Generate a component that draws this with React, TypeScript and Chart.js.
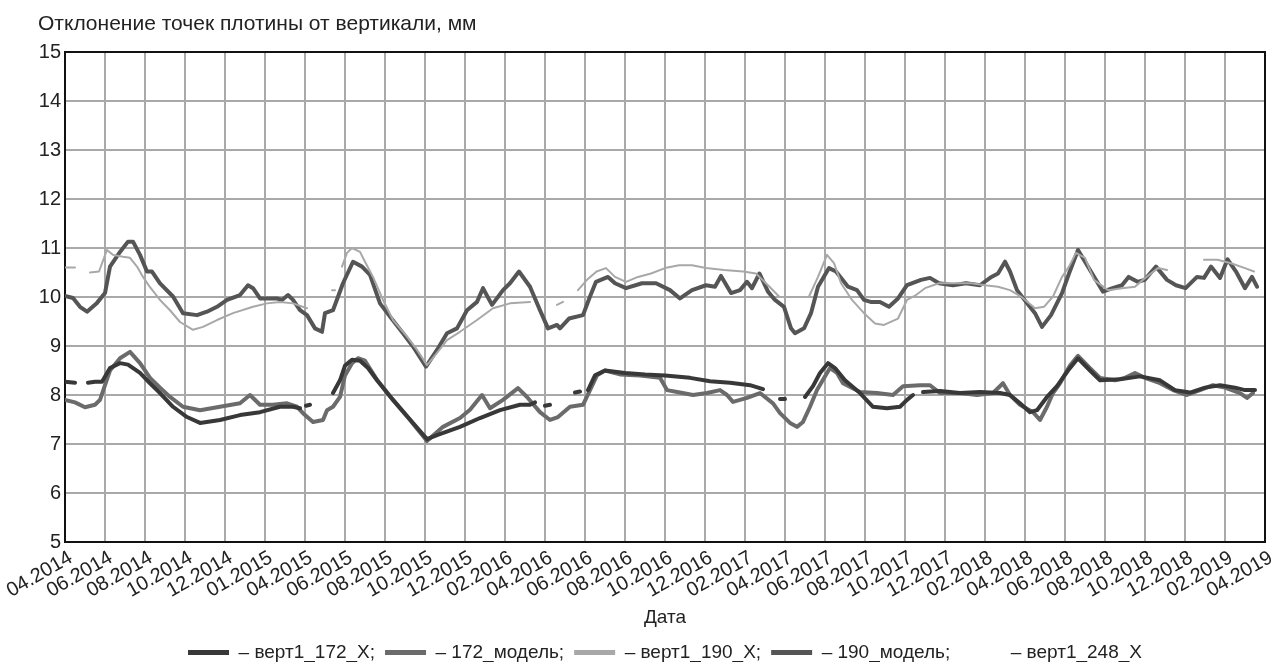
import React, { useEffect, useRef } from "react";
import { Chart, registerables } from "chart.js";

Chart.register(...registerables);

const xLabels = [
  "04.2014", "06.2014", "08.2014", "10.2014", "12.2014", "01.2015", "04.2015", "06.2015",
  "08.2015", "10.2015", "12.2015", "02.2016", "04.2016", "06.2016", "08.2016", "10.2016",
  "12.2016", "02.2017", "04.2017", "06.2017", "08.2017", "10.2017", "12.2017", "02.2018",
  "04.2018", "06.2018", "08.2018", "10.2018", "12.2018", "02.2019", "04.2019",
];

const seriesNames = ["верт1_172_X", "172_модель", "верт1_190_X", "190_модель", "верт1_248_X"];

type Pt = [number, number | null];

// position along the date axis (tick index), value in mm; null = gap
const vert172X: Pt[] = [
  [0, 8.27], [0.25, 8.25], [0.4, null],
  [0.575, 8.25], [0.75, 8.27], [0.925, 8.27], [1.125, 8.55], [1.375, 8.65], [1.575, 8.62], [1.875, 8.45],
  [2.125, 8.24], [2.375, 8.04], [2.7, 7.76], [3.05, 7.55], [3.375, 7.43], [3.875, 7.49], [4.375, 7.59],
  [4.875, 7.65], [5.375, 7.76], [5.7, 7.76], [5.875, 7.73], [5.95, null],
  [6.025, 7.78], [6.125, 7.8], [6.2, null],
  [6.7, 8.04], [6.875, 8.3], [7.0, 8.6], [7.175, 8.72], [7.375, 8.7], [7.575, 8.55], [7.8, 8.3], [8.2, 7.9],
  [8.625, 7.5], [9.05, 7.1], [9.3, 7.18], [9.875, 7.35], [10.375, 7.53], [10.875, 7.69], [11.375, 7.8],
  [11.625, 7.8], [11.75, 7.85], [11.85, null],
  [12.0, 7.78], [12.125, 7.8], [12.2, null],
  [12.75, 8.05], [12.875, 8.07], [12.95, null],
  [13.075, 8.1], [13.25, 8.4], [13.5, 8.5], [14.0, 8.45], [14.5, 8.42], [15.0, 8.4], [15.625, 8.35],
  [16.125, 8.28], [16.625, 8.25], [17.125, 8.2], [17.45, 8.12], [17.6, null],
  [17.875, 7.92], [18.0, 7.92], [18.2, null],
  [18.5, 7.96], [18.7, 8.18], [18.875, 8.45], [19.075, 8.65], [19.25, 8.55], [19.5, 8.3], [19.875, 8.04],
  [20.2, 7.76], [20.55, 7.73], [20.875, 7.76], [21.05, 7.9], [21.2, 8.0], [21.3, null],
  [21.45, 8.06], [21.875, 8.08], [22.375, 8.04], [22.875, 8.06], [23.375, 8.04], [23.625, 8.0], [23.875, 7.83],
  [24.125, 7.65], [24.3, 7.69], [24.55, 7.96], [24.8, 8.18], [25.075, 8.5], [25.325, 8.75], [25.625, 8.5],
  [25.875, 8.3], [26.375, 8.32], [26.875, 8.38], [27.375, 8.3], [27.75, 8.1], [28.125, 8.05], [28.5, 8.15],
  [28.875, 8.2], [29.25, 8.15], [29.5, 8.1], [29.75, 8.1],
];

const model172: Pt[] = [
  [0, 7.9], [0.25, 7.85], [0.5, 7.75], [0.75, 7.8], [0.875, 7.9], [1.0, 8.2], [1.125, 8.5], [1.375, 8.75],
  [1.625, 8.88], [1.875, 8.65], [2.125, 8.35], [2.375, 8.15], [2.625, 7.96], [2.95, 7.76], [3.375, 7.69],
  [3.875, 7.76], [4.375, 7.83], [4.625, 8.0], [4.875, 7.8], [5.2, 7.8], [5.55, 7.83], [5.8, 7.76],
  [5.95, 7.63], [6.2, 7.45], [6.45, 7.49], [6.55, 7.69], [6.7, 7.76], [6.875, 7.96], [7.0, 8.4],
  [7.175, 8.65], [7.325, 8.75], [7.5, 8.7], [7.8, 8.31], [8.2, 7.9], [8.625, 7.49], [9.05, 7.06],
  [9.45, 7.35], [9.875, 7.53], [10.125, 7.7], [10.425, 8.0], [10.625, 7.73], [10.95, 7.9], [11.325, 8.14],
  [11.55, 7.96], [11.875, 7.65], [12.125, 7.49], [12.325, 7.55], [12.625, 7.76], [12.95, 7.8], [13.125, 8.1],
  [13.3, 8.4], [13.5, 8.5], [13.875, 8.42], [14.375, 8.4], [14.875, 8.35], [15.05, 8.1], [15.375, 8.05],
  [15.7, 8.0], [16.05, 8.04], [16.375, 8.1], [16.55, 8.0], [16.7, 7.86], [17.05, 7.94], [17.375, 8.04],
  [17.7, 7.83], [17.875, 7.63], [18.125, 7.43], [18.3, 7.35], [18.45, 7.45], [18.625, 7.76], [18.8, 8.1],
  [18.95, 8.31], [19.125, 8.55], [19.3, 8.45], [19.45, 8.24], [19.875, 8.06], [20.3, 8.04], [20.7, 8.0],
  [20.95, 8.18], [21.375, 8.2], [21.625, 8.2], [21.875, 8.04], [22.375, 8.04], [22.8, 8.0], [23.2, 8.04],
  [23.45, 8.24], [23.625, 8.0], [23.875, 7.8], [24.2, 7.65], [24.375, 7.49], [24.55, 7.76], [24.7, 8.04],
  [24.875, 8.24], [25.125, 8.6], [25.325, 8.8], [25.625, 8.55], [25.875, 8.35], [26.25, 8.3], [26.5, 8.35],
  [26.75, 8.45], [27.0, 8.35], [27.375, 8.24], [27.7, 8.1], [28.05, 8.0], [28.375, 8.1], [28.7, 8.2],
  [29.0, 8.15], [29.375, 8.04], [29.55, 7.94], [29.7, 8.04],
];

const vert190X: Pt[] = [
  [0, 10.6], [0.25, 10.6], [0.4, null],
  [0.625, 10.5], [0.85, 10.52], [1.05, 10.96], [1.2, 10.86], [1.45, 10.82], [1.625, 10.8], [1.8, 10.62],
  [1.95, 10.41], [2.125, 10.2], [2.375, 9.94], [2.625, 9.73], [2.875, 9.49], [3.2, 9.33], [3.45, 9.39],
  [3.8, 9.53], [4.2, 9.67], [4.7, 9.8], [5.05, 9.87], [5.375, 9.9], [5.7, 9.87], [6.05, 9.77], [6.15, null],
  [6.675, 10.14], [6.75, 10.14], [6.85, null],
  [6.925, 10.62], [7.05, 10.9], [7.175, 11.0], [7.375, 10.92], [7.5, 10.72], [7.7, 10.41], [7.95, 9.94],
  [8.2, 9.53], [8.55, 9.19], [8.8, 8.92], [9.05, 8.61], [9.3, 8.86], [9.55, 9.12], [9.875, 9.29],
  [10.3, 9.53], [10.7, 9.77], [11.125, 9.87], [11.625, 9.9], [11.75, null],
  [12.3, 9.84], [12.45, 9.9], [12.6, null],
  [12.825, 10.14], [13.05, 10.35], [13.29, 10.52], [13.525, 10.59], [13.75, 10.41], [14.025, 10.31],
  [14.325, 10.41], [14.65, 10.48], [15.0, 10.59], [15.35, 10.65], [15.675, 10.65], [16.025, 10.59],
  [16.475, 10.55], [16.95, 10.52], [17.275, 10.48], [17.625, 10.2], [17.85, 10.01], [17.95, null],
  [18.6, 10.01], [18.825, 10.41], [19.05, 10.86], [19.225, 10.69], [19.4, 10.28], [19.675, 9.94],
  [19.975, 9.67], [20.25, 9.46], [20.475, 9.43], [20.825, 9.56], [21.05, 9.94], [21.275, 10.04],
  [21.5, 10.18], [21.85, 10.28], [22.3, 10.28], [22.65, 10.28], [23.0, 10.24], [23.325, 10.21],
  [23.625, 10.14], [23.9, 10.01], [24.25, 9.77], [24.475, 9.8], [24.7, 10.01], [24.925, 10.41],
  [25.1, 10.62], [25.275, 10.9], [25.5, 10.8], [25.725, 10.35], [26.075, 10.14], [26.425, 10.18],
  [26.75, 10.21], [26.99, 10.38], [27.325, 10.59], [27.55, 10.55], [27.7, null],
  [28.475, 10.76], [28.81, 10.76], [29.15, 10.69], [29.5, 10.59], [29.725, 10.52],
];

const model190: Pt[] = [
  [0, 10.02], [0.2, 9.98], [0.375, 9.8], [0.55, 9.7], [0.8, 9.88], [1.0, 10.08], [1.125, 10.62],
  [1.375, 10.92], [1.575, 11.13], [1.7, 11.13], [1.875, 10.86], [2.05, 10.52], [2.175, 10.52],
  [2.375, 10.28], [2.7, 10.01], [2.95, 9.67], [3.3, 9.63], [3.55, 9.7], [3.8, 9.8], [4.05, 9.94],
  [4.375, 10.04], [4.575, 10.24], [4.7, 10.18], [4.875, 9.97], [5.05, 9.97], [5.3, 9.97], [5.425, 9.94],
  [5.575, 10.04], [5.7, 9.94], [5.875, 9.73], [6.05, 9.63], [6.25, 9.36], [6.425, 9.29], [6.5, 9.67],
  [6.7, 9.73], [6.95, 10.28], [7.2, 10.72], [7.425, 10.62], [7.625, 10.45], [7.875, 9.87], [8.125, 9.6],
  [8.45, 9.26], [8.7, 8.99], [9.025, 8.58], [9.3, 8.92], [9.55, 9.26], [9.8, 9.36], [10.05, 9.73],
  [10.3, 9.9], [10.45, 10.18], [10.675, 9.84], [10.95, 10.14], [11.125, 10.28], [11.35, 10.52],
  [11.625, 10.21], [11.875, 9.73], [12.075, 9.36], [12.3, 9.43], [12.375, 9.36], [12.6, 9.56],
  [12.95, 9.63], [13.125, 10.01], [13.275, 10.31], [13.575, 10.41], [13.75, 10.28], [14.025, 10.18],
  [14.425, 10.28], [14.775, 10.28], [15.125, 10.14], [15.375, 9.97], [15.675, 10.14], [16.025, 10.24],
  [16.25, 10.21], [16.4, 10.43], [16.65, 10.08], [16.875, 10.14], [17.05, 10.31], [17.175, 10.18],
  [17.36, 10.48], [17.575, 10.11], [17.75, 9.94], [17.975, 9.8], [18.15, 9.36], [18.25, 9.26],
  [18.475, 9.36], [18.65, 9.67], [18.825, 10.21], [19.1, 10.59], [19.275, 10.52], [19.575, 10.21],
  [19.8, 10.14], [19.975, 9.94], [20.14, 9.9], [20.375, 9.9], [20.6, 9.8], [20.825, 9.97], [21.05, 10.24],
  [21.4, 10.35], [21.625, 10.39], [21.85, 10.28], [22.2, 10.24], [22.525, 10.28], [22.875, 10.24],
  [23.16, 10.41], [23.325, 10.48], [23.5, 10.72], [23.625, 10.52], [23.8, 10.14], [24.025, 9.9],
  [24.25, 9.67], [24.425, 9.39], [24.65, 9.63], [24.925, 10.08], [25.1, 10.48], [25.325, 10.96],
  [25.625, 10.55], [25.95, 10.11], [26.19, 10.18], [26.425, 10.24], [26.59, 10.41], [26.815, 10.31],
  [26.99, 10.35], [27.275, 10.62], [27.55, 10.35], [27.775, 10.24], [28.015, 10.18], [28.3, 10.41],
  [28.475, 10.39], [28.65, 10.62], [28.875, 10.39], [29.065, 10.77], [29.275, 10.52], [29.5, 10.18],
  [29.675, 10.41], [29.8, 10.21],
];

const vert248X: Pt[] = [];

const seriesData = [vert172X, model172, vert190X, model190, vert248X];
const seriesColors = ["#383838", "#6b6b6b", "#a8a8a8", "#555555", "#ffffff"];
const seriesWidths = [4, 4, 2, 4, 2];

const FONT = "'Liberation Sans', Arial, sans-serif";

const framePlugin = {
  id: "frame",
  beforeDatasetsDraw(chart: any) {
    const { ctx, chartArea } = chart;
    ctx.save();
    ctx.strokeStyle = "#111";
    ctx.lineWidth = 2;
    ctx.strokeRect(chartArea.left, chartArea.top, chartArea.right - chartArea.left, chartArea.bottom - chartArea.top);
    ctx.restore();
  },
};

export default function App() {
  const ref = useRef<HTMLCanvasElement | null>(null);

  useEffect(() => {
    if (!ref.current) return;
    const chart = new Chart(ref.current, {
      type: "line",
      data: {
        datasets: seriesNames.map((name, i) => ({
          label: name,
          data: seriesData[i].map(([t, v]) => ({ x: t, y: v })),
          borderColor: seriesColors[i],
          backgroundColor: seriesColors[i],
          borderWidth: seriesWidths[i],
          pointRadius: 0,
          tension: 0,
          spanGaps: false,
          borderJoinStyle: "round",
          borderCapStyle: "round",
          fill: false,
        })),
      },
      options: {
        responsive: false,
        animation: false,
        layout: { padding: { left: 38, right: 11, top: 0, bottom: -10 } },
        plugins: {
          tooltip: { enabled: false },
          title: {
            display: true,
            text: "Отклонение точек плотины от вертикали, мм",
            align: "start",
            color: "#222",
            font: { family: FONT, size: 21, weight: "normal" },
            padding: { top: 12, bottom: 14.8 },
          },
          legend: {
            position: "bottom",
            fullSize: false,
            labels: {
              color: "#222",
              font: { family: FONT, size: 19 },
              boxWidth: 41,
              boxHeight: 5,
              padding: 10,
              generateLabels: (c: any) =>
                c.data.datasets.map((ds: any, i: number) => ({
                  text: "– " + ds.label + (i < c.data.datasets.length - 1 ? ";" : ""),
                  fillStyle: ds.borderColor,
                  strokeStyle: ds.borderColor,
                  lineWidth: 0,
                  hidden: false,
                  datasetIndex: i,
                  fontColor: "#222",
                })),
            },
          },
        },
        scales: {
          x: {
            type: "linear",
            min: 0,
            max: 30,
            afterBuildTicks: (s: any) => {
              s.ticks = xLabels.map((_, i) => ({ value: i }));
            },
            afterFit: (s: any) => {
              s.height = 91;
              s.paddingLeft = 0;
              s.paddingRight = 0;
            },
            ticks: {
              autoSkip: false,
              minRotation: 30,
              maxRotation: 30,
              padding: 4,
              labelOffset: 6,
              color: "#222",
              font: { family: FONT, size: 20 },
              callback: (v: any) => xLabels[Math.round(Number(v))] ?? "",
            },
            grid: { color: "#a9a9a9", lineWidth: 2, drawTicks: false },
            border: { display: false },
            title: {
              display: true,
              text: "Дата",
              color: "#222",
              font: { family: FONT, size: 19 },
              padding: { top: 0, bottom: 4 },
            },
          },
          y: {
            min: 5,
            max: 15,
            afterFit: (s: any) => {
              s.width = 27;
            },
            ticks: {
              stepSize: 1,
              padding: 4,
              color: "#222",
              font: { family: FONT, size: 20 },
            },
            grid: { color: "#a9a9a9", lineWidth: 2, drawTicks: false },
            border: { display: false },
          },
        },
      },
      plugins: [framePlugin],
    } as any);
    return () => chart.destroy();
  }, []);

  return (
    <div style={{ position: "absolute", left: 0, top: 0, width: 1276, height: 662, background: "#fff" }}>
      <canvas ref={ref} width={1276} height={662} style={{ display: "block" }} />
    </div>
  );
}
